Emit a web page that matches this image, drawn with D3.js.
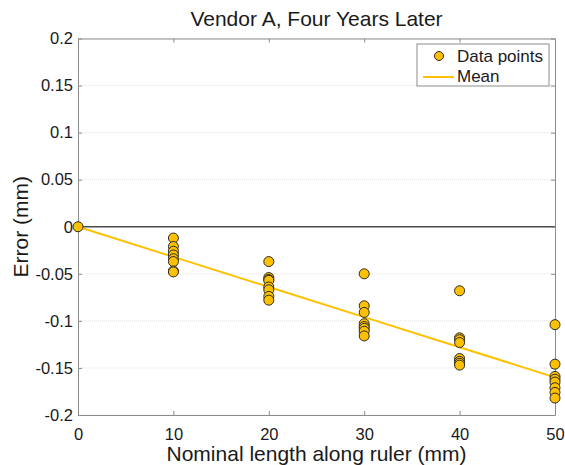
<!DOCTYPE html>
<html>
<head>
<meta charset="utf-8">
<script src="https://cdn.jsdelivr.net/npm/d3@7"></script>
<style>
  body { margin: 0; background: #fff; }
  svg { display: block; font-family: "Liberation Sans", Arial, sans-serif; }
</style>
</head>
<body>
<svg id="chart" width="565" height="465"></svg>
<script>
// nominal positions along the ruler (mm)
const lengths = [0, 10, 20, 30, 40, 50];

const errors0 = [0];
const errors10 = [-0.012, -0.021, -0.026, -0.030, -0.034, -0.037, -0.047, -0.048];
const errors20 = [-0.037, -0.054, -0.056, -0.057, -0.064, -0.067, -0.074, -0.078];
const errors30 = [-0.050, -0.084, -0.091, -0.103, -0.106, -0.108, -0.111, -0.116];
const errors40 = [-0.068, -0.118, -0.120, -0.123, -0.140, -0.143, -0.145, -0.147];
const errors50 = [-0.104, -0.146, -0.159, -0.162, -0.165, -0.171, -0.176, -0.182];

// mean error at each nominal length
const meanErrors = [0, -0.032, -0.064, -0.096, -0.128, -0.160];

const xTicks = [0, 10, 20, 30, 40, 50];
const yTicks = [-0.2, -0.15, -0.1, -0.05, 0, 0.05, 0.1, 0.15, 0.2];

const groups = [errors0, errors10, errors20, errors30, errors40, errors50];
const points = groups.flatMap((g, i) => g.map(v => ({ x: lengths[i], y: v })));

const svg = d3.select("#chart");
const margins = { top: 38.5, left: 78, right: 10, bottom: 50 };
const width = 565, height = 465;
const innerW = width - margins.left - margins.right;
const innerH = height - margins.top - margins.bottom;

const x = d3.scaleLinear().domain([0, 50]).range([0, innerW]);
const y = d3.scaleLinear().domain([-0.2, 0.2]).range([innerH, 0]);

const g = svg.append("g").attr("transform", `translate(${margins.left},${margins.top})`);

// faint horizontal grid
g.selectAll("line.grid")
  .data(yTicks)
  .join("line")
  .attr("class", "grid")
  .attr("x1", 0).attr("x2", innerW)
  .attr("y1", d => y(d)).attr("y2", d => y(d))
  .attr("stroke", "#e4e4e4")
  .attr("stroke-width", 1)
  .attr("stroke-dasharray", "1,1");

// zero reference line
g.append("line")
  .attr("x1", 0).attr("x2", innerW)
  .attr("y1", y(0)).attr("y2", y(0))
  .attr("stroke", "#4a4a4a")
  .attr("stroke-width", 1.3);

// axes, ticks pointing inward like matlab; plain hyphen for negatives
const fmt = d => String(+d.toFixed(2));
const axisStyle = (sel) => {
  sel.select(".domain").attr("stroke", "#8c8c8c");
  sel.selectAll(".tick line").attr("stroke", "#8c8c8c");
  sel.selectAll("text").attr("font-size", 16.5).attr("fill", "#1a1a1a")
    .attr("font-family", "Liberation Sans, Arial, sans-serif");
};

const xAxis = g.append("g")
  .attr("transform", `translate(0,${innerH})`)
  .call(d3.axisBottom(x).tickValues(xTicks).tickSize(-4).tickSizeOuter(0).tickPadding(13).tickFormat(fmt));
axisStyle(xAxis);

const yAxis = g.append("g")
  .call(d3.axisLeft(y).tickValues(yTicks).tickSize(-4).tickSizeOuter(0).tickPadding(5).tickFormat(fmt));
axisStyle(yAxis);

const xTop = g.append("g")
  .call(d3.axisTop(x).tickValues(xTicks).tickSize(-4).tickSizeOuter(0).tickFormat(""));
axisStyle(xTop);

const yRight = g.append("g")
  .attr("transform", `translate(${innerW},0)`)
  .call(d3.axisRight(y).tickValues(yTicks).tickSize(-4).tickSizeOuter(0).tickFormat(""));
axisStyle(yRight);

// mean line
const line = d3.line().x((d, i) => x(lengths[i])).y(d => y(d));
g.append("path")
  .datum(meanErrors)
  .attr("d", line)
  .attr("fill", "none")
  .attr("stroke", "#ffc000")
  .attr("stroke-width", 2);

// data points
g.selectAll("circle.pt")
  .data(points)
  .join("circle")
  .attr("class", "pt")
  .attr("cx", d => x(d.x))
  .attr("cy", d => y(d.y))
  .attr("r", 5)
  .attr("fill", "#ffc000")
  .attr("stroke", "#2b2b2b")
  .attr("stroke-width", 1);

// legend box
const lg = svg.append("g").attr("transform", "translate(417,44)");
lg.append("rect")
  .attr("width", 132).attr("height", 42)
  .attr("fill", "#fff")
  .attr("stroke", "#8c8c8c");
lg.append("circle")
  .attr("cx", 22).attr("cy", 12).attr("r", 4.5)
  .attr("fill", "#ffc000").attr("stroke", "#2b2b2b");
lg.append("line")
  .attr("x1", 6).attr("x2", 37).attr("y1", 33).attr("y2", 33)
  .attr("stroke", "#ffc000").attr("stroke-width", 2);
lg.append("text").attr("x", 40).attr("y", 18).attr("font-size", 17).attr("fill", "#1a1a1a").text("Data points");
lg.append("text").attr("x", 40).attr("y", 37.5).attr("font-size", 17).attr("fill", "#1a1a1a").text("Mean");

// title and axis labels
svg.append("text")
  .attr("x", margins.left + innerW / 2).attr("y", 26)
  .attr("text-anchor", "middle")
  .attr("font-size", 21).attr("fill", "#1a1a1a")
  .text("Vendor A, Four Years Later");

svg.append("text")
  .attr("x", margins.left + innerW / 2).attr("y", 461)
  .attr("text-anchor", "middle")
  .attr("font-size", 21).attr("fill", "#1a1a1a")
  .text("Nominal length along ruler (mm)");

svg.append("text")
  .attr("transform", `translate(28,${margins.top + y(0)}) rotate(-90)`)
  .attr("text-anchor", "middle")
  .attr("font-size", 21).attr("fill", "#1a1a1a")
  .text("Error (mm)");
</script>
</body>
</html>
